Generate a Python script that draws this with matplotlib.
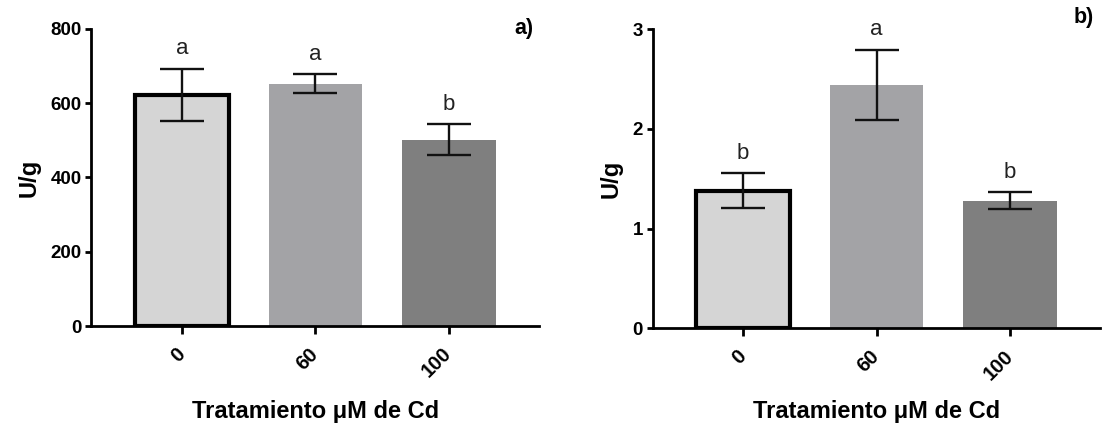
import matplotlib

matplotlib.use("Agg")
import matplotlib.pyplot as plt  # noqa: E402

plt.rcParams["font.family"] = ["Liberation Sans", "DejaVu Sans"]

treatments = ["0", "60", "100"]
colors = ["#d5d5d5", "#a3a3a6", "#7f7f7f"]

# panel a)
vals_a = [622, 653, 502]
err_a = [70, 25, 41]
letters_a = ["a", "a", "b"]

# panel b)
vals_b = [1.38, 2.44, 1.28]
err_b = [0.175, 0.355, 0.085]
letters_b = ["b", "a", "b"]

FIG_H = 428


def panel(ax, vals, errs, letters, ymax, yticks, tag, tag_y):
    x = range(len(vals))
    bars = ax.bar(x, vals, width=0.70, color=colors, zorder=2)
    bars[0].set_edgecolor("black")
    bars[0].set_linewidth(3.0)
    ax.errorbar(x, vals, yerr=errs, fmt="none", ecolor="#111", elinewidth=1.7,
                capsize=16, capthick=1.7, zorder=3)
    for i, (v, e, s) in enumerate(zip(vals, errs, letters)):
        ax.annotate(s, (i, v + e), xytext=(0, 10.5), textcoords="offset points",
                    ha="center", va="baseline", fontsize=16, color="#222")
    ax.set_xlim(-0.678, 2.674)
    ax.set_ylim(0, ymax)
    ax.set_yticks(yticks)
    ax.set_xticks(list(x))
    ax.set_xticklabels(treatments, rotation=45, ha="right", va="center",
                       rotation_mode="anchor", fontweight="bold", fontsize=14.5)
    for lab in ax.get_yticklabels():
        lab.set_fontweight("bold")
        lab.set_fontsize(13.5)
    ax.spines[["top", "right"]].set_visible(False)
    for s in ("left", "bottom"):
        ax.spines[s].set_linewidth(2)
    ax.tick_params(axis="y", width=2, length=4, pad=3)
    ax.tick_params(axis="x", width=2, length=6, pad=12)
    ax.set_ylabel("U/g", fontweight="bold", fontsize=17, labelpad=7)
    ax.set_xlabel("Tratamiento μM de Cd", fontweight="bold", fontsize=17, va="top")
    # place the x label top at about y=400 px
    pos = ax.get_position()
    bottom_px = FIG_H * (1 - pos.y0)
    height_px = FIG_H * pos.height
    ax.xaxis.set_label_coords(0.5, (bottom_px - 400) / height_px)
    ax.text(0.987, tag_y, tag, transform=ax.transAxes, ha="right", va="center",
            fontweight="bold", fontsize=15.5)


fig = plt.figure(figsize=(11.02, 4.28), dpi=100)
ax1 = fig.add_axes([0.083, 0.2383, 0.406, 0.694])
ax2 = fig.add_axes([0.5922, 0.233, 0.406, 0.6986])

panel(ax1, vals_a, err_a, letters_a, 800, [0, 200, 400, 600, 800], "a)", 1.0)
panel(ax2, vals_b, err_b, letters_b, 3, [0, 1, 2, 3], "b)", 1.04)

fig.savefig("out.png", dpi=100)
